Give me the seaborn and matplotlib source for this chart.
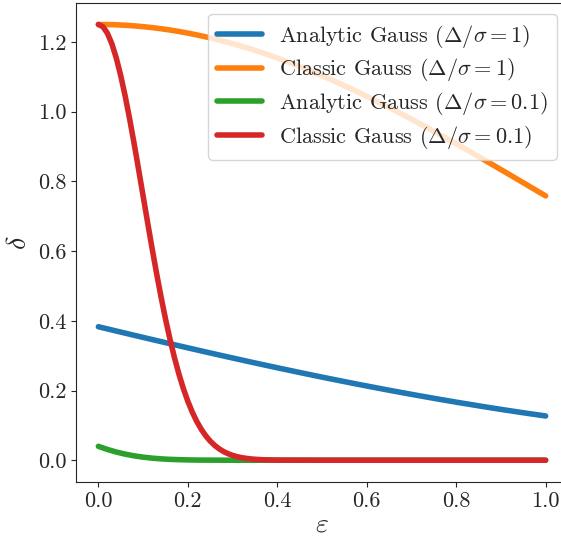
import numpy as np
import pandas as pd
import matplotlib
matplotlib.use("Agg")
import matplotlib.pyplot as plt
import seaborn as sns

# ---- data (delta vs epsilon) ----
epsilon = [round(0.02 * i, 2) for i in range(51)]
# the steep red curve needs a finer grid near zero
epsilon_fine = [round(0.01 * i, 2) for i in range(41)] + [0.5, 0.6, 0.7, 0.8, 0.9, 1.0]

analytic_r1 = [0.3829, 0.3768, 0.3706, 0.3645, 0.3584, 0.3523, 0.3463, 0.3403, 0.3343, 0.3283,
               0.3224, 0.3165, 0.3106, 0.3048, 0.2990, 0.2933, 0.2876, 0.2819, 0.2763, 0.2708,
               0.2652, 0.2598, 0.2544, 0.2490, 0.2437, 0.2384, 0.2332, 0.2281, 0.2230, 0.2179,
               0.2130, 0.2081, 0.2032, 0.1984, 0.1937, 0.1890, 0.1844, 0.1799, 0.1754, 0.1710,
               0.1666, 0.1624, 0.1582, 0.1540, 0.1499, 0.1459, 0.1420, 0.1381, 0.1343, 0.1306,
               0.1269]

classic_r1 = [1.2500, 1.2498, 1.2490, 1.2478, 1.2460, 1.2438, 1.2410, 1.2378, 1.2341, 1.2299,
              1.2252, 1.2201, 1.2145, 1.2085, 1.2019, 1.1950, 1.1876, 1.1798, 1.1716, 1.1629,
              1.1539, 1.1445, 1.1347, 1.1245, 1.1140, 1.1031, 1.0919, 1.0804, 1.0686, 1.0565,
              1.0441, 1.0314, 1.0185, 1.0054, 0.9920, 0.9784, 0.9646, 0.9506, 0.9365, 0.9221,
              0.9077, 0.8931, 0.8784, 0.8636, 0.8487, 0.8337, 0.8187, 0.8036, 0.7885, 0.7733,
              0.7582]

analytic_r01 = [0.0399, 0.0310, 0.0235, 0.0174, 0.0125, 0.0088, 0.0060, 0.0039, 0.0025, 0.0016,
                0.0009, 0.0005, 0.0003, 0.0002, 0.0001] + [0.0] * 36

classic_r01 = [1.2500, 1.2438, 1.2252, 1.1950, 1.1539, 1.1031, 1.0441, 0.9784, 0.9077, 0.8337,
               0.7582, 0.6826, 0.6084, 0.5370, 0.4691, 0.4058, 0.3476, 0.2947, 0.2474, 0.2056,
               0.1692, 0.1378, 0.1112, 0.0888, 0.0702, 0.0549, 0.0426, 0.0327, 0.0248, 0.0187,
               0.0139, 0.0102, 0.0075, 0.0054, 0.0039, 0.0027, 0.0019, 0.0013, 0.0009, 0.0006,
               0.0004, 0.0, 0.0, 0.0, 0.0, 0.0, 0.0]

labels = [r"Analytic Gauss ($\Delta/\sigma = 1$)",
          r"Classic Gauss ($\Delta/\sigma = 1$)",
          r"Analytic Gauss ($\Delta/\sigma = 0.1$)",
          r"Classic Gauss ($\Delta/\sigma = 0.1$)"]
colors = ["#1f77b4", "#ff7f0e", "#2ca02c", "#d62728"]

df = pd.DataFrame({
    "epsilon": epsilon * 3 + epsilon_fine,
    "delta": analytic_r1 + classic_r1 + analytic_r01 + classic_r01,
    "curve": [labels[0]] * 51 + [labels[1]] * 51 + [labels[2]] * 51
             + [labels[3]] * len(epsilon_fine),
})

# ---- style ----
sns.set_style("ticks")
plt.rcParams["font.family"] = "serif"
plt.rcParams["font.serif"] = ["cmr10"]
plt.rcParams["mathtext.fontset"] = "cm"
plt.rcParams["axes.formatter.use_mathtext"] = True
plt.rcParams["xtick.major.size"] = 3.5
plt.rcParams["ytick.major.size"] = 3.5

fig = plt.figure(figsize=(5.61, 5.37), dpi=100)
ax = fig.add_axes([0.1355, 0.1024, 0.877, 0.8926])

sns.lineplot(data=df, x="epsilon", y="delta", hue="curve", hue_order=labels,
             palette=colors, linewidth=4, ax=ax)

ax.set_xlim(-0.05, 1.05)
ax.set_ylim(-0.0625, 1.3125)
ax.set_xticks([0.0, 0.2, 0.4, 0.6, 0.8, 1.0])
ax.set_yticks([0.0, 0.2, 0.4, 0.6, 0.8, 1.0, 1.2])
ax.set_xticklabels(["0.0", "0.2", "0.4", "0.6", "0.8", "1.0"])
ax.set_yticklabels(["0.0", "0.2", "0.4", "0.6", "0.8", "1.0", "1.2"])
ax.tick_params(labelsize=16)
ax.set_xlabel(r"$\varepsilon$", fontsize=20, labelpad=0)
ax.set_ylabel(r"$\delta$", fontsize=20)

ax.legend(loc="upper right", fontsize=16, labelspacing=0.3)

fig.savefig("out.png", dpi=100)
